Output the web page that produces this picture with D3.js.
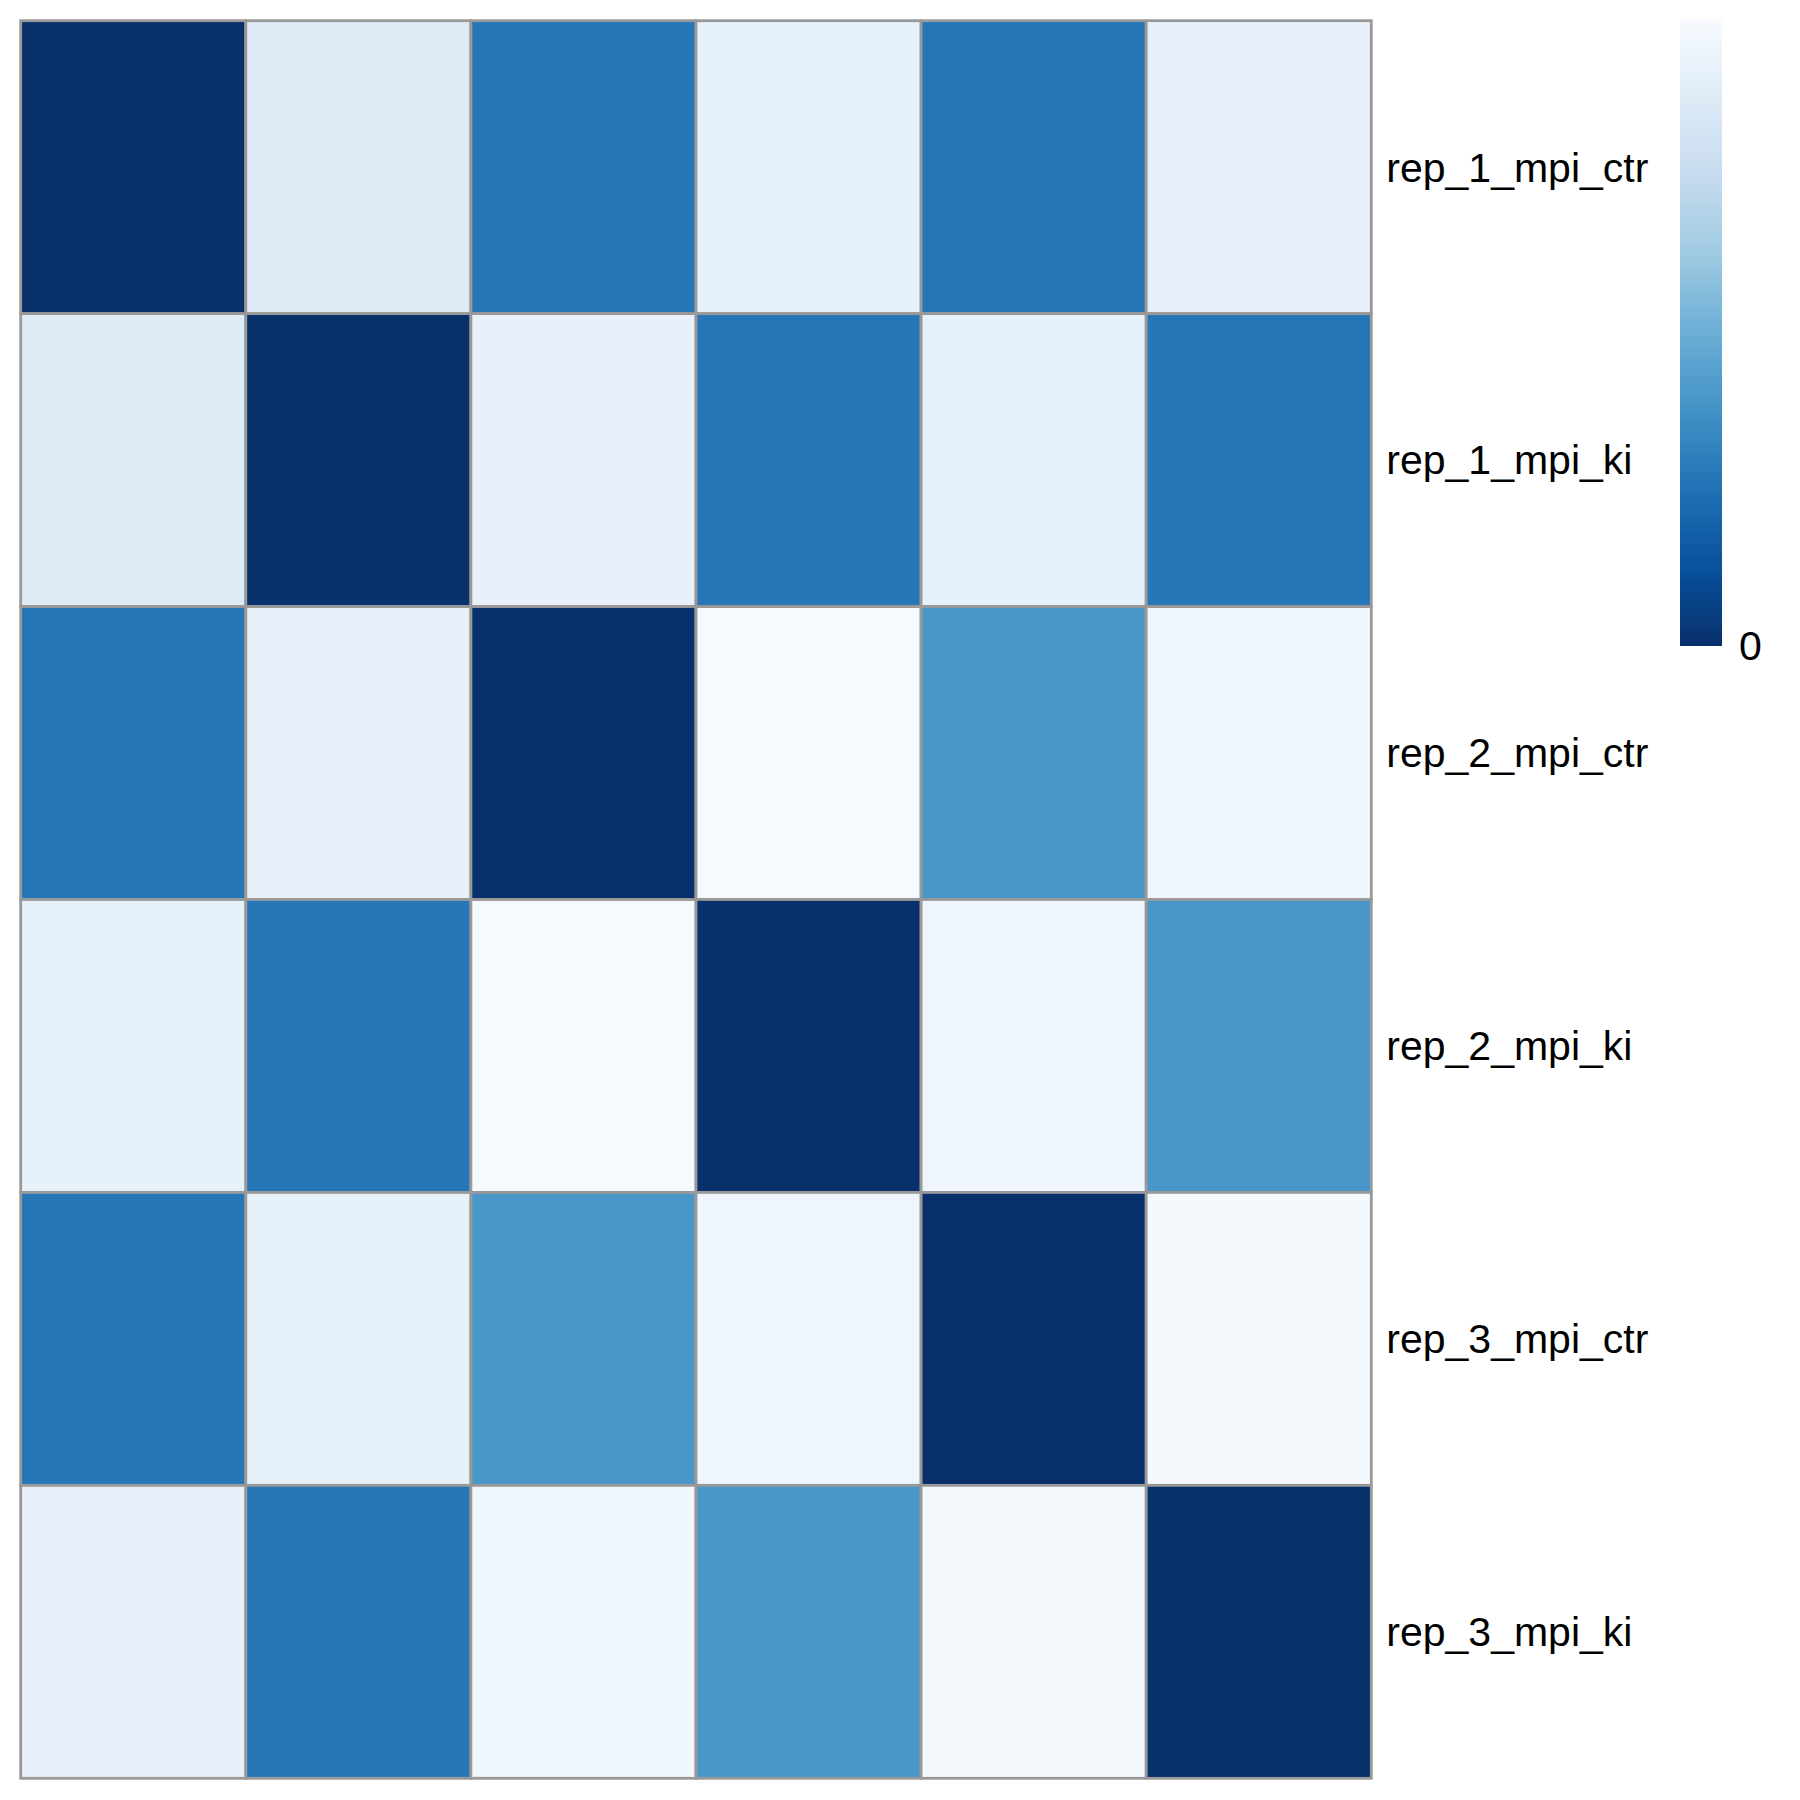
<!DOCTYPE html>
<html>
<head>
<meta charset="utf-8">
<script src="https://cdn.jsdelivr.net/npm/d3@7"></script>
<style>
  html, body { margin: 0; padding: 0; background: #ffffff; }
  svg { display: block; }
</style>
</head>
<body>
<div id="chart"></div>
<script>
// ---- data ----
const rowLabels = ["rep_1_mpi_ctr", "rep_1_mpi_ki", "rep_2_mpi_ctr", "rep_2_mpi_ki", "rep_3_mpi_ctr", "rep_3_mpi_ki"];
const colLabels = ["rep_1_mpi_ctr", "rep_1_mpi_ki", "rep_2_mpi_ctr", "rep_2_mpi_ki", "rep_3_mpi_ctr", "rep_3_mpi_ki"];
const distRow1 = [0.000, 0.877, 0.272, 0.920, 0.272, 0.925];
const distRow2 = [0.877, 0.000, 0.925, 0.272, 0.920, 0.272];
const distRow3 = [0.272, 0.925, 0.000, 0.990, 0.396, 0.960];
const distRow4 = [0.920, 0.272, 0.990, 0.000, 0.955, 0.396];
const distRow5 = [0.272, 0.920, 0.396, 0.955, 0.000, 0.985];
const distRow6 = [0.925, 0.272, 0.960, 0.396, 0.985, 0.000];
const distMatrix = [distRow1, distRow2, distRow3, distRow4, distRow5, distRow6];
const legendTicks = [0];
const valueDomain = [0, 1];
const bluesPalette = ["#08306B","#08519C","#2171B5","#4292C6","#6BAED6","#9ECAE1","#C6DBEF","#DEEBF7","#F7FBFF"];

// ---- layout ----
const W = 1800, H = 1800;
const gridLeft = 20.7, gridTop = 20.7, gridRight = 1371.3, gridBottom = 1778.3;

const svg = d3.select("#chart").append("svg")
  .attr("width", W).attr("height", H)
  .style("font-family", "'Liberation Sans', Arial, Helvetica, sans-serif");

const x = d3.scaleBand().domain(colLabels.map((d, i) => i)).range([gridLeft, gridRight]).padding(0);
const y = d3.scaleBand().domain(rowLabels).range([gridTop, gridBottom]).padding(0);

const color = d3.scaleLinear()
  .domain(d3.range(bluesPalette.length).map(i => valueDomain[0] + (valueDomain[1] - valueDomain[0]) * i / (bluesPalette.length - 1)))
  .range(bluesPalette)
  .interpolate(d3.interpolateRgb)
  .clamp(true);

const cells = [];
distMatrix.forEach((row, ri) => row.forEach((v, ci) => cells.push({ r: rowLabels[ri], c: ci, v })));

svg.append("g").selectAll("rect")
  .data(cells)
  .join("rect")
  .attr("x", d => x(d.c))
  .attr("y", d => y(d.r))
  .attr("width", x.bandwidth())
  .attr("height", y.bandwidth())
  .attr("fill", d => color(d.v))
  .attr("stroke", "#999999")
  .attr("stroke-width", 2.8);

// row labels
svg.append("g").selectAll("text")
  .data(rowLabels)
  .join("text")
  .attr("x", gridRight + 15)
  .attr("y", d => y(d) + y.bandwidth() / 2)
  .attr("dy", "0.35em")
  .attr("font-size", 41)
  .attr("fill", "#000")
  .text(d => d);

// ---- legend ----
const legX = 1680, legW = 42, legTop = 20, legBottom = 646;
const legScale = d3.scaleLinear().domain(valueDomain).range([legBottom, legTop]);

const defs = svg.append("defs");
const grad = defs.append("linearGradient")
  .attr("id", "legGrad")
  .attr("x1", "0").attr("y1", "1").attr("x2", "0").attr("y2", "0");
d3.range(0, 1.0001, 0.02).forEach(t => {
  grad.append("stop")
    .attr("offset", t)
    .attr("stop-color", color(valueDomain[0] + t * (valueDomain[1] - valueDomain[0])));
});

svg.append("rect")
  .attr("x", legX).attr("y", legTop)
  .attr("width", legW).attr("height", legBottom - legTop)
  .attr("fill", "url(#legGrad)");

const legAxis = svg.append("g")
  .attr("transform", `translate(${legX + legW},0)`)
  .call(d3.axisRight(legScale).tickValues(legendTicks).tickSize(0).tickPadding(17).tickFormat(d3.format("d")));
legAxis.select(".domain").remove();
legAxis.selectAll("text")
  .attr("font-size", 41)
  .attr("font-family", "'Liberation Sans', Arial, Helvetica, sans-serif")
  .attr("fill", "#000");
</script>
</body>
</html>
